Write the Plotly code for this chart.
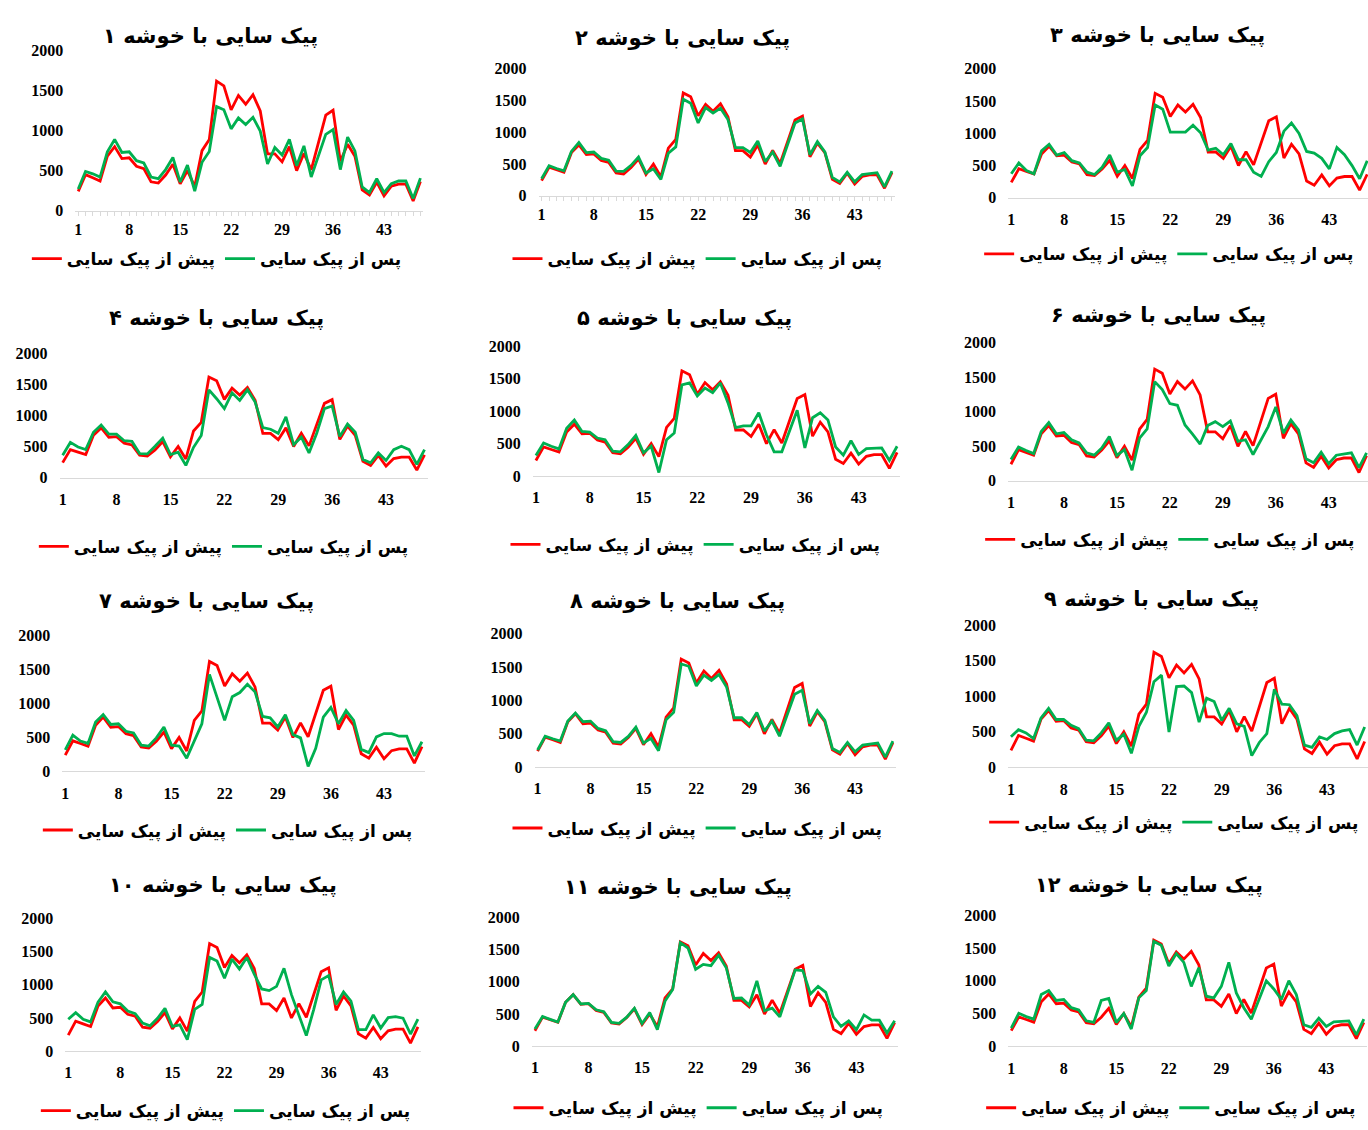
import plotly.graph_objects as go

# ---------------- data ----------------
hours = list(range(1, 49))
tick_vals = [1, 8, 15, 22, 29, 36, 43]
tick_text = ["1", "8", "15", "22", "29", "36", "43"]
y_ticks = [0, 500, 1000, 1500, 2000]

name_before = "پیش از پیک سایی"
name_after = "پس از پیک سایی"

titles = [
    "پیک سایی با خوشه ۱", "پیک سایی با خوشه ۲", "پیک سایی با خوشه ۳",
    "پیک سایی با خوشه ۴", "پیک سایی با خوشه ۵", "پیک سایی با خوشه ۶",
    "پیک سایی با خوشه ۷", "پیک سایی با خوشه ۸", "پیک سایی با خوشه ۹",
    "پیک سایی با خوشه ۱۰", "پیک سایی با خوشه ۱۱", "پیک سایی با خوشه ۱۲",
]

before = [240, 450, 410, 370, 680, 800, 650, 660, 555, 525, 360, 345, 445, 580, 335, 500,
          300, 750, 890, 1620, 1560, 1260, 1440, 1330, 1450, 1245, 710, 710, 610, 800, 500, 715,
          510, 850, 1195, 1255, 615, 830, 680, 260, 195, 355, 185, 305, 330, 330, 120, 365]

after_1 = [270, 490, 460, 420, 735, 890, 727, 735, 624, 595, 420, 400, 513, 665, 357, 570,
           242, 604, 740, 1300, 1260, 1022, 1158, 1076, 1166, 994, 583, 788, 694, 891, 562, 809,
           420, 686, 953, 1014, 513, 920, 747, 296, 226, 398, 226, 337, 370, 370, 152, 406]
after_2 = [270, 475, 430, 395, 700, 840, 680, 690, 590, 560, 390, 385, 480, 610, 360, 424,
           258, 670, 770, 1520, 1457, 1147, 1390, 1302, 1380, 1200, 760, 760, 682, 863, 540, 690,
           465, 800, 1147, 1210, 646, 853, 690, 290, 220, 370, 220, 335, 350, 365, 140, 388]
after_3 = [372, 540, 422, 372, 728, 830, 662, 702, 575, 540, 397, 361, 473, 662, 397, 438,
           183, 651, 779, 1440, 1374, 1018, 1018, 1018, 1125, 1008, 738, 768, 667, 840, 590, 590,
           397, 331, 560, 702, 1033, 1160, 997, 718, 692, 611, 448, 779, 667, 499, 295, 575]
after_4 = [360, 566, 492, 450, 730, 847, 698, 698, 593, 582, 386, 381, 503, 635, 370, 407,
           196, 487, 677, 1413, 1270, 1111, 1365, 1243, 1413, 1217, 804, 778, 714, 979, 529, 651,
           397, 714, 1111, 1153, 661, 862, 730, 291, 238, 397, 275, 450, 503, 450, 212, 450]
after_5 = [318, 510, 460, 419, 737, 864, 687, 677, 586, 561, 384, 374, 485, 626, 359, 460,
           56, 561, 662, 1404, 1434, 1232, 1354, 1283, 1434, 1126, 747, 773, 773, 975, 636, 374,
           374, 687, 1015, 434, 899, 975, 864, 449, 323, 545, 333, 424, 434, 434, 242, 460]
after_6 = [310, 490, 438, 395, 714, 843, 681, 700, 595, 548, 405, 371, 476, 643, 367, 452,
           152, 619, 752, 1438, 1324, 1119, 1095, 810, 676, 533, 800, 857, 786, 867, 571, 595,
           381, 595, 786, 1071, 690, 881, 738, 319, 262, 414, 248, 371, 390, 405, 190, 405]
after_7 = [315, 533, 446, 412, 726, 838, 692, 702, 591, 567, 387, 373, 494, 654, 387, 373,
           194, 446, 702, 1429, 1090, 751, 1099, 1162, 1283, 1172, 809, 789, 654, 833, 542, 494,
           73, 339, 799, 944, 702, 896, 751, 324, 276, 508, 557, 557, 518, 518, 228, 436]
after_8 = [256, 463, 425, 390, 690, 810, 680, 690, 580, 545, 380, 370, 460, 600, 360, 430,
           246, 710, 820, 1547, 1512, 1217, 1379, 1300, 1389, 1202, 740, 740, 640, 820, 540, 690,
           463, 780, 1093, 1153, 650, 850, 700, 280, 220, 370, 230, 330, 350, 360, 150, 390]
after_9 = [430, 531, 485, 406, 697, 831, 674, 674, 591, 545, 383, 374, 485, 628, 383, 466,
           199, 577, 776, 1206, 1298, 499, 1136, 1145, 1053, 637, 975, 928, 660, 831, 614, 577,
           166, 351, 476, 1099, 891, 882, 730, 314, 282, 430, 393, 476, 513, 531, 314, 568]
after_10 = [480, 579, 480, 440, 738, 891, 743, 713, 604, 564, 421, 381, 495, 644, 371, 396,
            173, 629, 703, 1411, 1356, 1099, 1386, 1238, 1411, 1158, 936, 911, 975, 1248, 851, 530,
            233, 629, 1074, 1139, 703, 891, 752, 322, 322, 545, 347, 505, 520, 495, 257, 480]
after_11 = [265, 460, 415, 375, 680, 800, 655, 665, 565, 535, 370, 355, 450, 590, 350, 520,
            255, 700, 880, 1607, 1525, 1194, 1270, 1250, 1413, 1219, 740, 750, 640, 1015, 550, 590,
            454, 820, 1184, 1173, 811, 929, 837, 454, 306, 393, 255, 485, 403, 403, 204, 393]
after_12 = [280, 505, 455, 415, 790, 850, 700, 715, 590, 555, 390, 365, 700, 730, 365, 500,
            265, 740, 850, 1600, 1540, 1225, 1415, 1280, 915, 1200, 765, 740, 915, 1280, 815, 590,
            415, 715, 1000, 875, 715, 1000, 790, 330, 290, 430, 305, 375, 380, 390, 175, 415]

after_all = [after_1, after_2, after_3, after_4, after_5, after_6,
             after_7, after_8, after_9, after_10, after_11, after_12]

# ---------------- layout geometry (pixels) ----------------
W, H = 1368, 1130
# (x of cat 1, x of cat 43, y of 0, y of 2000, title x, title y, legend x, legend y, tick marks)
geom = [
    (77.3, 383.3, 205.7, 43.3, 210, 28, 216, 255, True),
    (541.0, 854.3, 190.7, 61.7, 682, 30, 697, 255, True),
    (1011.0, 1329.3, 192.7, 61.7, 1157, 27, 1169, 250, False),
    (61.7, 385.3, 476.7, 350.7, 216, 315, 223, 547, False),
    (535.3, 858.3, 475.3, 343.3, 684, 315, 695, 545, False),
    (1010.7, 1328.7, 480.0, 340.0, 1158, 312, 1170, 540, False),
    (64.3, 383.3, 775.0, 637.3, 206, 602, 227, 835, False),
    (537.0, 854.7, 770.7, 635.3, 677, 602, 697, 833, False),
    (1010.7, 1327.0, 771.0, 626.7, 1151, 600, 1174, 827, False),
    (67.3, 380.0, 1059.0, 924.3, 222, 890, 225, 1120, False),
    (534.3, 856.0, 1054.0, 923.3, 677, 892, 698, 1117, False),
    (1011.0, 1326.3, 1054.3, 921.0, 1149, 890, 1171, 1117, False),
]

RED = "#FF0000"
GREEN = "#00B050"
AXIS_GRAY = "#D9D9D9"
TICK_FONT = dict(family="Liberation Serif, Times New Roman, serif", size=16, color="black", weight="bold")
FA_FONT = "DejaVu Sans, Noto Sans, sans-serif"

fig = go.Figure()
layout = dict(
    width=W, height=H, margin=dict(l=0, r=0, t=0, b=0), autosize=False,
    paper_bgcolor="white", plot_bgcolor="white", showlegend=True,
)
annotations = []

for i, (g, after) in enumerate(zip(geom, after_all)):
    px1, px43, y0, y2000, tx, ty, lx, ly, ticks_on = g
    n = i + 1
    sfx = "" if n == 1 else str(n)
    step = (px43 - px1) / 42.0
    px48 = px1 + 47 * step
    left = px1 - 0.4 * step
    right = min(px48 + 0.4 * step, W)
    r0 = 1 + (left - px1) / step
    r1 = 1 + (right - px1) / step
    leg = "legend" if n == 1 else "legend%d" % n

    fig.add_trace(go.Scatter(
        x=hours, y=before, mode="lines", name=name_before,
        line=dict(color=RED, width=2.8), xaxis="x" + sfx, yaxis="y" + sfx,
        legend=leg, hoverinfo="skip"))
    fig.add_trace(go.Scatter(
        x=hours, y=after, mode="lines", name=name_after,
        line=dict(color=GREEN, width=2.8), xaxis="x" + sfx, yaxis="y" + sfx,
        legend=leg, hoverinfo="skip"))

    xa = dict(
        domain=[left / W, right / W], range=[r0, r1], anchor="y" + sfx,
        showgrid=False, zeroline=False, showline=True, linecolor=AXIS_GRAY, linewidth=1.2,
        tickmode="array", tickvals=tick_vals, ticktext=tick_text, tickfont=TICK_FONT,
        ticks="outside" if ticks_on else "", ticklen=4, tickcolor=AXIS_GRAY,
        ticklabelstandoff=0 if ticks_on else 7, fixedrange=True,
    )
    if ticks_on:
        xa["minor"] = dict(tickmode="linear", tick0=1, dtick=1, ticks="outside",
                           ticklen=4, tickcolor=AXIS_GRAY)
    ya = dict(
        domain=[1 - y0 / H, 1 - y2000 / H], range=[0, 2000], anchor="x" + sfx,
        showgrid=False, zeroline=False, showline=False,
        tickmode="array", tickvals=y_ticks, tickfont=TICK_FONT, ticks="",
        ticklabelstandoff=11, fixedrange=True,
    )
    layout["xaxis" + sfx] = xa
    layout["yaxis" + sfx] = ya

    layout[leg] = dict(
        orientation="h", x=lx / W, y=1 - ly / H, xanchor="center", yanchor="middle",
        bgcolor="rgba(0,0,0,0)", font=dict(family=FA_FONT, size=17, color="black", weight="bold"),
        itemwidth=30, traceorder="normal",
    )

    annotations.append(dict(
        text=titles[i], x=tx / W, y=1 - ty / H, xref="paper", yref="paper",
        xanchor="center", yanchor="middle", showarrow=False,
        font=dict(family=FA_FONT, size=21, color="black", weight="bold"),
    ))

layout["annotations"] = annotations
fig.update_layout(**layout)
fig.write_html(
    "out.html",
    config={"displayModeBar": False},
    post_script="document.body.style.margin='0px';document.body.style.padding='0px';"
                "document.body.style.overflow='hidden';",
)
